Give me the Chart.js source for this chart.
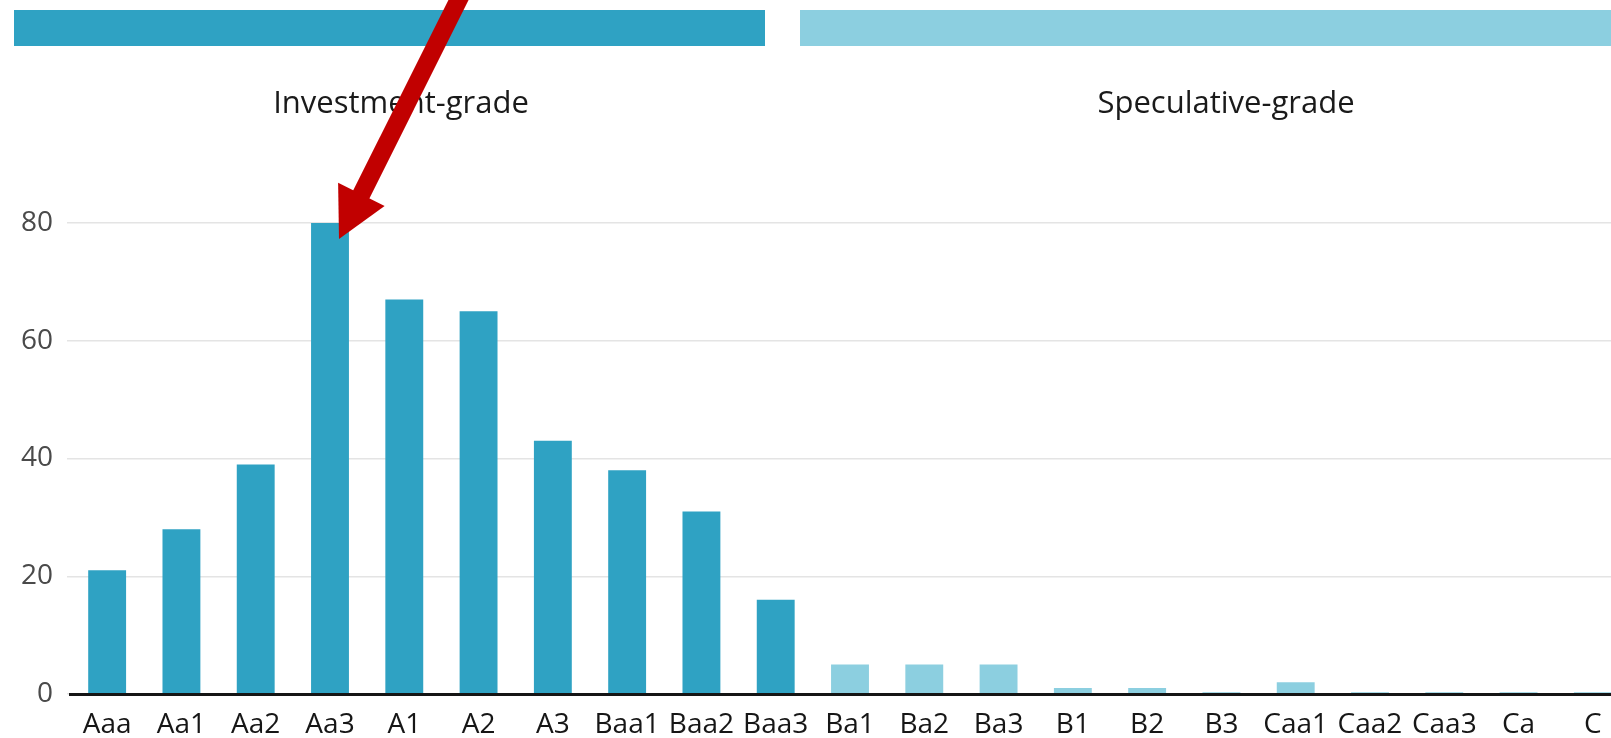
<!DOCTYPE html>
<html>
<head>
<meta charset="utf-8">
<title>Ratings distribution</title>
<script src="https://cdn.jsdelivr.net/npm/chart.js@4/dist/chart.umd.min.js"></script>
<style>
  html, body { margin: 0; padding: 0; background: #ffffff; overflow: hidden; }
  #wrap { width: 1611px; height: 738px; overflow: hidden; position: relative; }
  canvas { display: block; }
</style>
</head>
<body>
<div id="wrap"><canvas id="ratings" width="1630" height="738"></canvas></div>
<script>
// Rating categories along the x axis
const ratings = ['Aaa', 'Aa1', 'Aa2', 'Aa3', 'A1', 'A2', 'A3', 'Baa1', 'Baa2', 'Baa3',
                 'Ba1', 'Ba2', 'Ba3', 'B1', 'B2', 'B3', 'Caa1', 'Caa2', 'Caa3', 'Ca', 'C'];
// Number of issuers per rating
const counts = [21, 28, 39, 80, 67, 65, 43, 38, 31, 16,
                5, 5, 5, 1, 1, 0.3, 2, 0.3, 0.3, 0.3, 0.3];
// Grade groups: the first ratings (Aaa..Baa3) are investment grade
const gradeGroups = ['Investment-grade', 'Speculative-grade'];
const investmentGradeCount = 10;
// Value-axis ticks
const yTicks = [0, 20, 40, 60, 80];

const investmentColor = '#2fa2c3';
const speculativeColor = '#8ccfe0';
const barColors = ratings.map((r, i) => i < investmentGradeCount ? investmentColor : speculativeColor);

// Coloured bands with group names above the plot
const groupBands = {
  id: 'groupBands',
  beforeDraw(chart) {
    const ctx = chart.ctx;
    const bands = [
      { x0: 14, x1: 765, color: investmentColor, labelX: 401, label: gradeGroups[0] },
      { x0: 800, x1: chart.width, color: speculativeColor, labelX: 1226, label: gradeGroups[1] }
    ];
    ctx.save();
    bands.forEach(b => {
      ctx.fillStyle = b.color;
      ctx.fillRect(b.x0, 10, b.x1 - b.x0, 36);
      ctx.fillStyle = '#1a1a1a';
      ctx.font = '31px "Open Sans", "Noto Sans", sans-serif';
      ctx.textAlign = 'center';
      ctx.textBaseline = 'alphabetic';
      ctx.fillText(b.label, b.labelX, 113);
    });
    ctx.restore();
  }
};

// Red pointer arrow aimed at the tallest bar
const peakPointer = {
  id: 'peakPointer',
  afterDraw(chart) {
    const { ctx, scales: { x, y } } = chart;
    const peak = Math.max(...counts);
    const idx = counts.indexOf(peak);
    const tipX = x.getPixelForValue(idx) + 9;
    const tipY = y.getPixelForValue(peak) + 16;
    const len = Math.sqrt(5);
    const ux = -1 / len, uy = 2 / len;      // pointing direction
    const px = 2 / len, py = 1 / len;       // perpendicular
    const headLen = 50, headHalf = 26, shaft = 18;
    const bx = tipX - ux * headLen, by = tipY - uy * headLen;
    ctx.save();
    ctx.fillStyle = '#c10000';
    ctx.strokeStyle = '#c10000';
    ctx.lineWidth = shaft;
    ctx.lineCap = 'butt';
    ctx.beginPath();
    ctx.moveTo(bx + ux * 4, by + uy * 4);
    ctx.lineTo(bx - ux * 400, by - uy * 400);
    ctx.stroke();
    ctx.beginPath();
    ctx.moveTo(tipX, tipY);
    ctx.lineTo(bx + px * headHalf, by + py * headHalf);
    ctx.lineTo(bx - px * headHalf, by - py * headHalf);
    ctx.closePath();
    ctx.fill();
    ctx.restore();
  }
};

function draw() {
  new Chart(document.getElementById('ratings'), {
    type: 'bar',
    data: {
      labels: ratings,
      datasets: [{
        data: counts,
        backgroundColor: barColors,
        borderWidth: 0,
        barPercentage: 0.51,
        categoryPercentage: 1
      }]
    },
    options: {
      responsive: false,
      animation: false,
      devicePixelRatio: 1,
      layout: { padding: { top: 223, left: 0, right: 0, bottom: 0 } },
      plugins: { legend: { display: false }, tooltip: { enabled: false } },
      scales: {
        x: {
          grid: { display: false },
          border: { display: true, color: '#151515', width: 3, z: 1 },
          ticks: {
            color: '#161616',
            font: { family: '"Open Sans", "Noto Sans", sans-serif', size: 28 },
            padding: 6,
            autoSkip: false,
            maxRotation: 0
          },
          afterFit(scale) { scale.height = 44; }
        },
        y: {
          min: 0,
          max: 80,
          afterBuildTicks(scale) { scale.ticks = yTicks.map(v => ({ value: v })); },
          grid: { color: '#e4e4e4', lineWidth: 1.5, drawTicks: true, tickLength: 3 },
          border: { display: false },
          ticks: {
            color: '#4a4a4a',
            font: { family: '"Open Sans", "Noto Sans", sans-serif', size: 28 },
            padding: 14
          },
          afterFit(scale) { scale.width = 70; }
        }
      }
    },
    plugins: [groupBands, peakPointer]
  });
}

if (document.fonts && document.fonts.load) {
  Promise.all([
    document.fonts.load('28px "Open Sans"'),
    document.fonts.load('31px "Open Sans"')
  ]).then(draw, draw);
} else {
  draw();
}
</script>
</body>
</html>
